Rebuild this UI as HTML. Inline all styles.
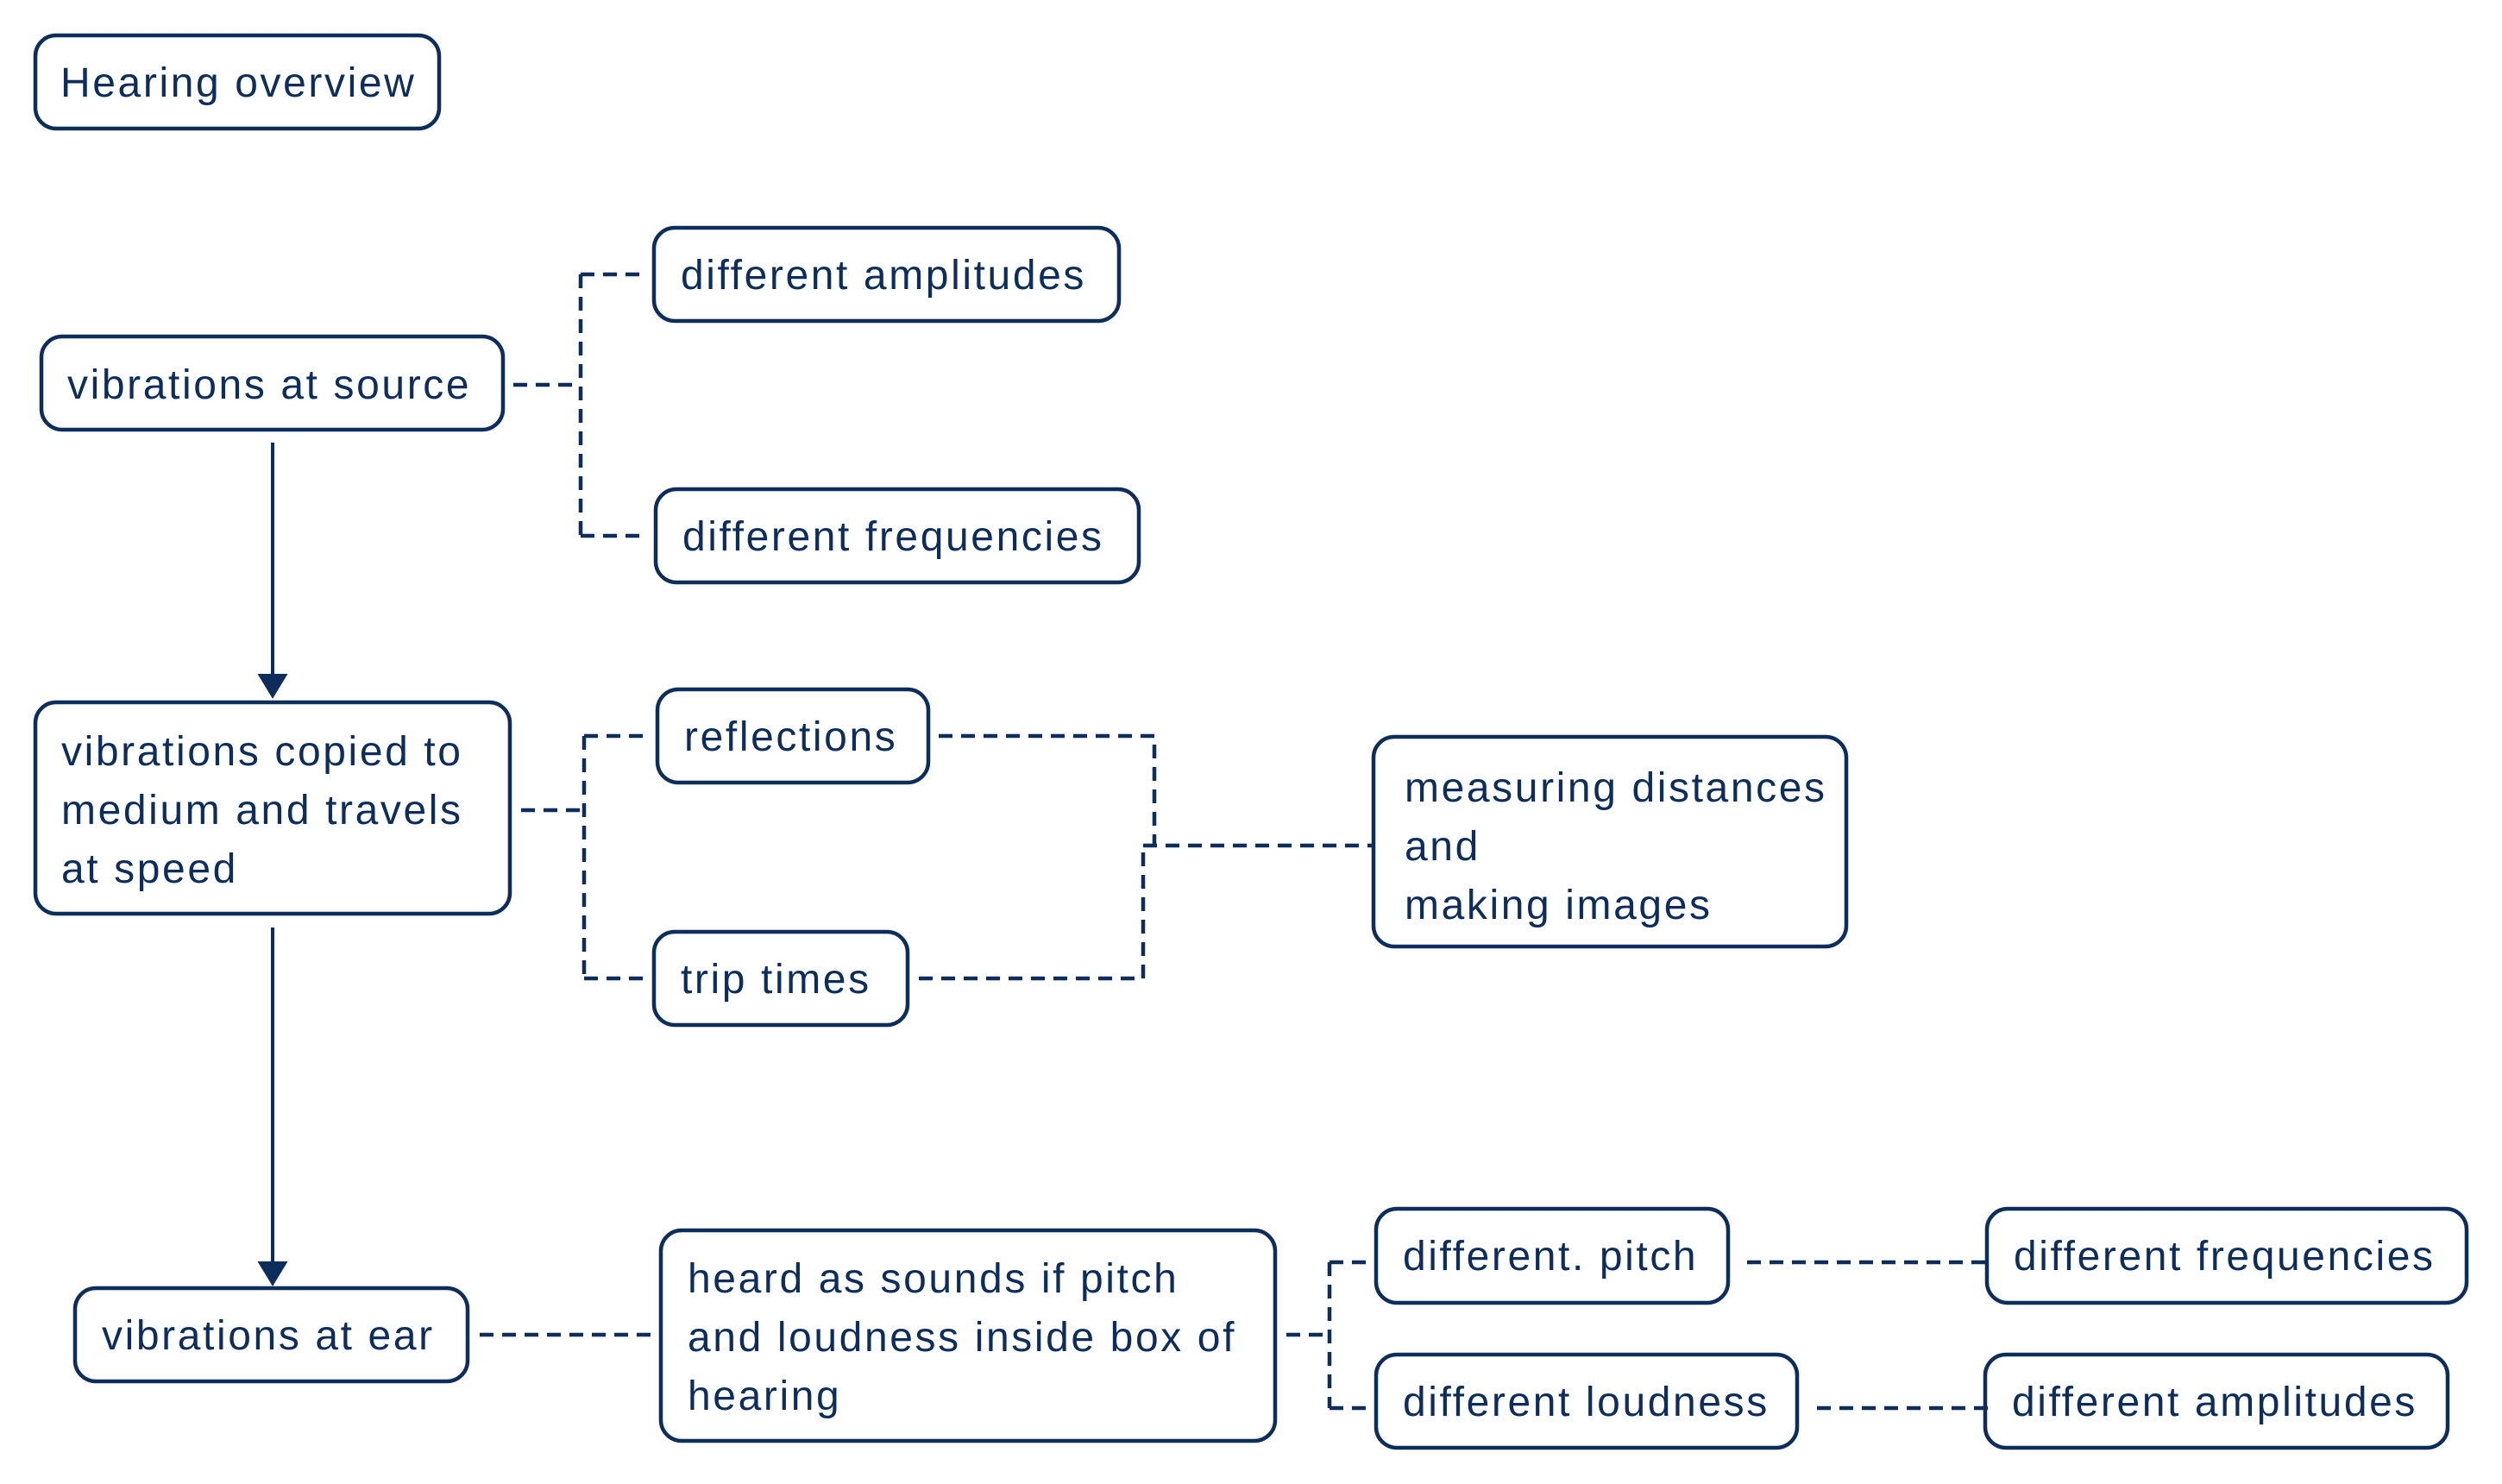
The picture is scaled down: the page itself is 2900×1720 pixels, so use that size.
<!DOCTYPE html>
<html><head><meta charset="utf-8"><style>
html,body{margin:0;padding:0;background:#fff;}
svg{display:block;}
text{font-family:"Liberation Sans",sans-serif;font-size:48px;letter-spacing:2.6px;fill:#0d2e5c;}
</style></head><body>
<svg width="2900" height="1720" viewBox="0 0 2900 1720" xmlns="http://www.w3.org/2000/svg">
<g fill="none" stroke="#0d2e5c" stroke-width="4.5">
<rect x="41" y="41" width="468" height="108" rx="24"/>
<rect x="48" y="390" width="535" height="108" rx="24"/>
<rect x="758" y="264" width="539" height="108" rx="24"/>
<rect x="760" y="567" width="560" height="108" rx="24"/>
<rect x="41" y="814" width="550" height="245" rx="24"/>
<rect x="762" y="799" width="314" height="108" rx="24"/>
<rect x="758" y="1080" width="294" height="108" rx="24"/>
<rect x="1592" y="854" width="548" height="243" rx="24"/>
<rect x="87" y="1493" width="455" height="108" rx="24"/>
<rect x="766" y="1426" width="712" height="244" rx="24"/>
<rect x="1595" y="1401" width="408" height="109" rx="24"/>
<rect x="1595" y="1570" width="488" height="108" rx="24"/>
<rect x="2303" y="1401" width="556" height="109" rx="24"/>
<rect x="2301" y="1570" width="536" height="108" rx="24"/>
</g>
<g fill="none" stroke="#0d2e5c" stroke-width="4.5" stroke-dasharray="16,10">
<path d="M595 446 H673 M673 318 V621 M673 318 H749 M673 621 H749"/>
<path d="M604 939 H677 M677 853 V1134 M677 853 H753 M677 1134 H753"/>
<path d="M1088 853 H1338 V980 M1065 1134 H1325 V980 M1325 980 H1590"/>
<path d="M556 1547 H757"/>
<path d="M1491 1547 H1541 M1541 1463 V1632 M1541 1463 H1593 M1541 1632 H1593"/>
<path d="M2025 1463 H2305 M2106 1632 H2305"/>
</g>
<g stroke="#0d2e5c" stroke-width="4" fill="#0d2e5c">
<line x1="316" y1="513" x2="316" y2="785"/>
<path d="M302 783 L330 783 L316 806 Z"/>
<line x1="316" y1="1075" x2="316" y2="1466"/>
<path d="M302 1464 L330 1464 L316 1487 Z"/>
</g>
<text x="70" y="112">Hearing overview</text>
<text x="78" y="462">vibrations at source</text>
<text x="789" y="335">different amplitudes</text>
<text x="791" y="638">different frequencies</text>
<text x="71" y="887">vibrations copied to</text>
<text x="71" y="955">medium and travels</text>
<text x="71" y="1023">at speed</text>
<text x="793" y="870">reflections</text>
<text x="789" y="1151">trip times</text>
<text x="1628" y="929">measuring distances</text>
<text x="1628" y="997">and</text>
<text x="1628" y="1065">making images</text>
<text x="118" y="1564">vibrations at ear</text>
<text x="797" y="1498">heard as sounds if pitch</text>
<text x="797" y="1566">and loudness inside box of</text>
<text x="797" y="1634">hearing</text>
<text x="1626" y="1472">different. pitch</text>
<text x="1626" y="1641">different loudness</text>
<text x="2334" y="1472">different frequencies</text>
<text x="2332" y="1641">different amplitudes</text>
</svg>
</body></html>
